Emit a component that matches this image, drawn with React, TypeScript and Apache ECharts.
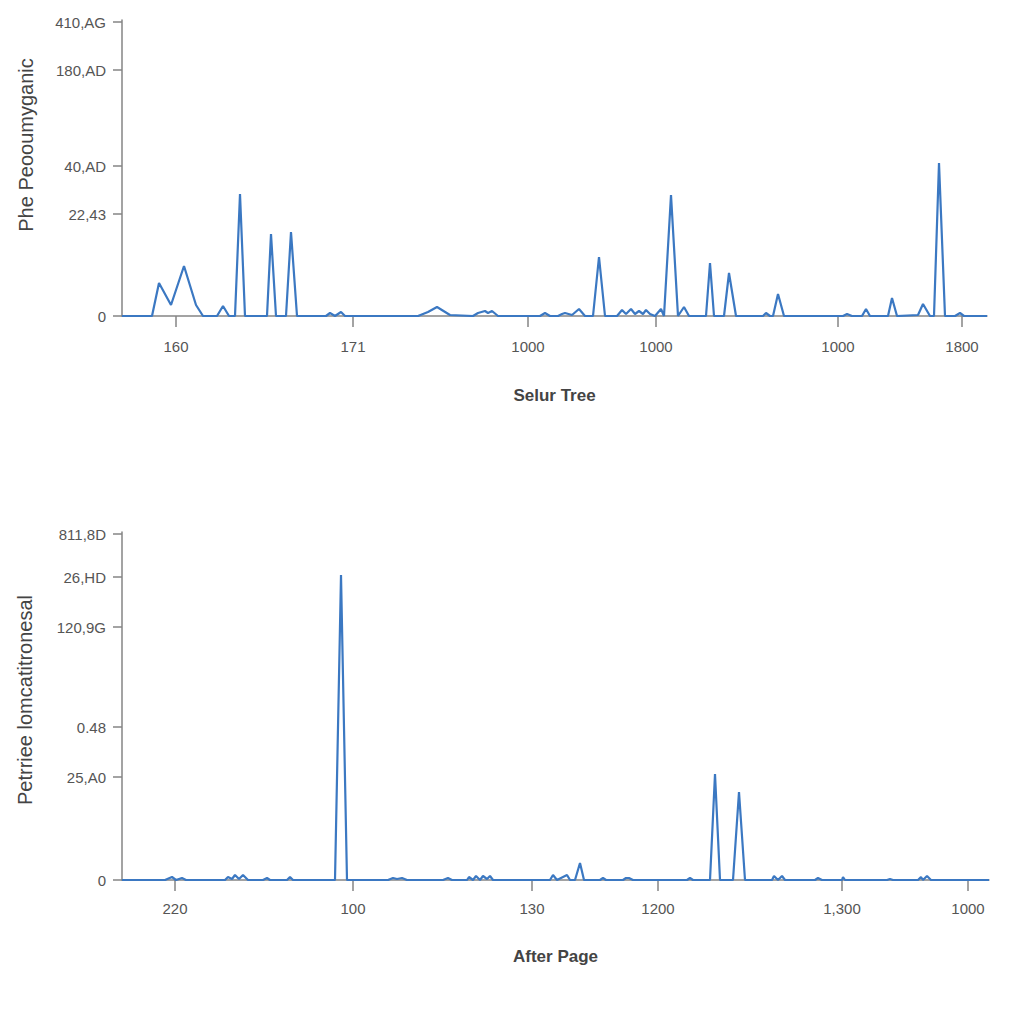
import React, { useEffect, useRef } from "react";
import * as echarts from "echarts";

// ---- Top panel data ----
const topPositions = [0, 30, 37, 49, 62, 74, 81, 95, 101, 107, 113, 118, 123, 145, 149, 154, 164, 169, 175, 204, 208, 213, 219, 223, 296, 306, 315, 328, 351, 356, 363, 366, 370, 376, 418, 423, 428, 436, 440, 443, 450, 457, 463, 471, 477, 483, 495, 500, 504, 509, 513, 517, 521, 524, 528, 533, 539, 542, 549, 556, 562, 567, 584, 588, 592, 602, 607, 614, 641, 644, 648, 651, 656, 662, 721, 725, 730, 740, 744, 748, 766, 770, 775, 796, 801, 808, 812, 817, 823, 833, 838, 842, 865];
const topValues = [0, 0, 33, 11, 50, 11, 0, 0, 10, 0, 0, 122, 0, 0, 82, 0, 0, 84, 0, 0, 3, 0, 4, 0, 0, 4, 9, 1, 0, 3, 5, 3, 5, 0, 0, 3, 0, 0, 2, 3, 1, 7, 0, 0, 59, 0, 0, 6, 2, 7, 2, 5, 2, 6, 2, 0, 7, 0, 121, 0, 9, 0, 0, 53, 0, 0, 43, 0, 0, 3, 0, 0, 22, 0, 0, 2, 0, 0, 7, 0, 0, 18, 0, 1, 12, 0, 0, 153, 0, 0, 3, 0, 0];
const topYTicks = [0, 102, 150, 246, 294];
const topYLabels = ["0", "22,43", "40,AD", "180,AD", "410,AG"];
const topXTicks = [54, 231, 406, 534, 716, 840];
const topXLabels = ["160", "171", "1000", "1000", "1000", "1800"];

// ---- Bottom panel data ----
const botPositions = [0, 43, 50, 54, 60, 64, 75, 103, 106, 110, 113, 117, 121, 126, 141, 145, 148, 165, 168, 171, 213, 219, 225, 251, 266, 271, 275, 280, 285, 321, 326, 330, 345, 347, 351, 354, 358, 361, 365, 368, 371, 428, 431, 435, 441, 445, 448, 453, 458, 462, 478, 481, 484, 501, 504, 507, 511, 565, 568, 571, 588, 593, 598, 611, 617, 623, 650, 652, 656, 660, 663, 693, 696, 700, 720, 721, 723, 765, 768, 771, 796, 799, 801, 805, 809, 867];
const botValues = [0, 0, 3, 0, 2, 0, 0, 0, 3, 1, 5, 1, 5, 0, 0, 2, 0, 0, 3, 0, 0, 305, 0, 0, 0, 2, 1, 2, 0, 0, 2, 0, 0, 3, 0, 4, 0, 4, 1, 4, 0, 0, 5, 0, 3, 5, 0, 0, 17, 0, 0, 2, 0, 0, 2, 2, 0, 0, 2, 0, 0, 106, 0, 0, 88, 0, 0, 4, 0, 4, 0, 0, 2, 0, 0, 3, 0, 0, 1, 0, 0, 3, 0, 4, 0, 0];
const botYTicks = [0, 103, 153, 253, 303, 346];
const botYLabels = ["0", "25,A0", "0.48", "120,9G", "26,HD", "811,8D"];
const botXTicks = [53, 231, 410, 536, 720, 846];
const botXLabels = ["220", "100", "130", "1200", "1,300", "1000"];

const FONT = "'Liberation Sans', Arial, sans-serif";
const AXIS_COLOR = "#858585";
const LABEL_COLOR = "#555";
const LINE_COLOR = "#3b78c2";

function zip(xs: number[], ys: number[]) {
  return xs.map((x, i) => [x, ys[i]]);
}

function xAxisCfg(gridIndex: number, max: number, ticks: number[], labels: string[], name: string, nameGap: number, labelMargin: number) {
  return {
    type: "value",
    gridIndex,
    min: 0,
    max,
    name,
    nameLocation: "middle",
    nameGap,
    nameTextStyle: { fontFamily: FONT, fontSize: 17, fontWeight: "bold", color: "#444" },
    axisLine: { show: true, lineStyle: { color: AXIS_COLOR, width: 1.5 } },
    axisTick: { show: true, length: 11, customValues: ticks, lineStyle: { color: AXIS_COLOR, width: 1.5 } },
    axisLabel: {
      customValues: ticks,
      margin: labelMargin,
      fontFamily: FONT,
      fontSize: 15,
      color: LABEL_COLOR,
      formatter: (v: number) => labels[ticks.indexOf(v)] ?? "",
    },
    splitLine: { show: false },
  };
}

function yAxisCfg(gridIndex: number, max: number, ticks: number[], labels: string[]) {
  return {
    type: "value",
    gridIndex,
    min: 0,
    max,
    axisLine: { show: true, lineStyle: { color: AXIS_COLOR, width: 1.5 } },
    axisTick: { show: true, length: 9, customValues: ticks, lineStyle: { color: AXIS_COLOR, width: 1.5 } },
    axisLabel: {
      customValues: ticks,
      margin: 16,
      fontFamily: FONT,
      fontSize: 15,
      color: LABEL_COLOR,
      formatter: (v: number) => labels[ticks.indexOf(v)] ?? "",
    },
    splitLine: { show: false },
  };
}

export default function App() {
  const ref = useRef<HTMLDivElement>(null);
  useEffect(() => {
    if (!ref.current) return;
    const chart = echarts.init(ref.current, null, { renderer: "svg" });
    chart.setOption({
      animation: false,
      backgroundColor: "#ffffff",
      grid: [
        { left: 122, top: 20, width: 865, height: 296 },
        { left: 122, top: 532, width: 867, height: 348 },
      ],
      xAxis: [
        xAxisCfg(0, 865, topXTicks, topXLabels, "Selur Tree", 71, 23),
        xAxisCfg(1, 867, botXTicks, botXLabels, "After Page", 68, 21),
      ],
      yAxis: [
        yAxisCfg(0, 296, topYTicks, topYLabels),
        yAxisCfg(1, 348, botYTicks, botYLabels),
      ],
      series: [
        {
          type: "line",
          xAxisIndex: 0,
          yAxisIndex: 0,
          data: zip(topPositions, topValues),
          showSymbol: false,
          symbol: "none",
          lineStyle: { color: LINE_COLOR, width: 2.2 },
          z: 5,
        },
        {
          type: "line",
          xAxisIndex: 1,
          yAxisIndex: 1,
          data: zip(botPositions, botValues),
          showSymbol: false,
          symbol: "none",
          lineStyle: { color: LINE_COLOR, width: 2.2 },
          z: 5,
        },
      ],
      graphic: [
        {
          type: "text",
          x: 26,
          y: 145,
          rotation: Math.PI / 2,
          style: {
            text: "Phe Peooumyganic",
            fontFamily: FONT,
            fontSize: 20,
            fill: "#444",
            align: "center",
            verticalAlign: "middle",
          },
        },
        {
          type: "text",
          x: 25,
          y: 700,
          rotation: Math.PI / 2,
          style: {
            text: "Petrriee lomcatitronesal",
            fontFamily: FONT,
            fontSize: 20,
            fill: "#444",
            align: "center",
            verticalAlign: "middle",
          },
        },
      ],
    });
    return () => chart.dispose();
  }, []);
  return (
    <div
      ref={ref}
      style={{ position: "fixed", left: 0, top: 0, width: 1024, height: 1024, background: "#fff" }}
    />
  );
}
